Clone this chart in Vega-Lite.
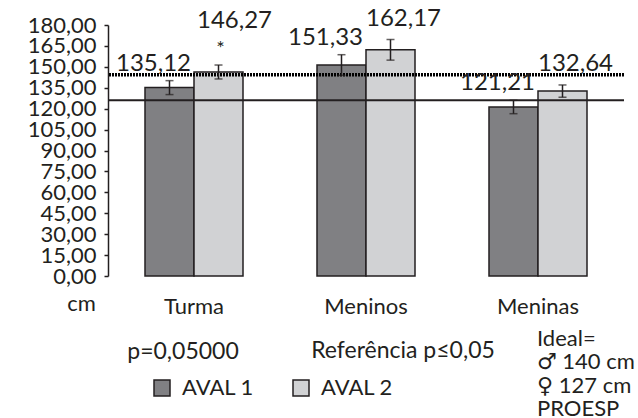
{
  "$schema": "https://vega.github.io/schema/vega-lite/v6.json",
  "width": 516,
  "height": 251,
  "autosize": "none",
  "padding": {"left": 108, "top": 25, "right": 14, "bottom": 142},
  "background": "white",
  "config": {
    "font": "Lato",
    "view": {"stroke": null},
    "text": {"font": "Lato", "fontSize": 24, "color": "#231f20"},
    "axis": {"labelFont": "Lato", "titleFont": "Lato", "labelColor": "#231f20", "titleColor": "#231f20", "grid": false},
    "axisY": {
      "labelExpr": "replace(format(datum.value, '.2f'), '.', ',')",
      "labelFontSize": 22, "labelPadding": 8, "labelOverlap": false, "labelBound": false,
      "domainColor": "#231f20", "domainWidth": 1.5, "tickColor": "#231f20", "tickWidth": 1.5, "tickSize": 4
    }
  },
  "datasets": {
    "bars": [
      {"grupo": "Turma", "aval": "AVAL 1", "valor": 135.12, "lo": 130.1, "hi": 140.1, "rotulo": "135,12", "sig": ""},
      {"grupo": "Turma", "aval": "AVAL 2", "valor": 146.27, "lo": 141.3, "hi": 151.3, "rotulo": "146,27", "sig": "*"},
      {"grupo": "Meninos", "aval": "AVAL 1", "valor": 151.33, "lo": 143.9, "hi": 158.7, "rotulo": "151,33", "sig": ""},
      {"grupo": "Meninos", "aval": "AVAL 2", "valor": 162.17, "lo": 154.8, "hi": 169.6, "rotulo": "162,17", "sig": ""},
      {"grupo": "Meninas", "aval": "AVAL 1", "valor": 121.21, "lo": 116.4, "hi": 126.0, "rotulo": "121,21", "sig": ""},
      {"grupo": "Meninas", "aval": "AVAL 2", "valor": 132.64, "lo": 128.2, "hi": 137.0, "rotulo": "132,64", "sig": ""}
    ],
    "refs": [
      {"ref": "dotted", "cm": 144.4},
      {"ref": "solid", "cm": 126.0}
    ],
    "notas": [
      {"grupo": "Turma", "nota": "p=0,05000"},
      {"grupo": "Meninos", "nota": "Referência p≤0,05"},
      {"grupo": "Meninas", "nota": "Ideal=\n♂ 140 cm\n♀ 127 cm\nPROESP"}
    ]
  },
  "layer": [
    {
      "data": {"name": "bars"},
      "mark": {"type": "bar", "stroke": "#231f20", "strokeWidth": 1.5},
      "encoding": {
        "x": {
          "field": "grupo", "type": "nominal", "sort": ["Turma", "Meninos", "Meninas"],
          "scale": {"paddingInner": 0, "paddingOuter": 0},
          "axis": {"title": null, "domain": false, "ticks": false, "tickSize": 0, "labelAngle": 0, "labelFontSize": 22, "labelPadding": 37, "labelBaseline": "alphabetic"}
        },
        "xOffset": {"field": "aval", "type": "nominal", "scale": {"paddingInner": 0, "paddingOuter": 0.755}},
        "y": {
          "field": "valor", "type": "quantitative",
          "scale": {"domain": [0, 180], "nice": false, "zero": true},
          "axis": {
            "values": [0, 15, 30, 45, 60, 75, 90, 105, 120, 135, 150, 165, 180],
            "title": "cm", "titleAngle": 0, "titleX": -27, "titleY": 285, "titleAlign": "center", "titleBaseline": "alphabetic",
            "titleFontWeight": "normal", "titleFontSize": 22
          }
        },
        "color": {
          "field": "aval", "type": "nominal",
          "scale": {"domain": ["AVAL 1", "AVAL 2"], "range": ["#808083", "#d1d2d4"]},
          "legend": {
            "title": null, "orient": "none", "legendX": 43, "legendY": 352, "direction": "horizontal",
            "symbolType": "square", "symbolSize": 256, "symbolStrokeColor": "#231f20", "symbolStrokeWidth": 1.5,
            "labelFont": "Lato", "labelFontSize": 22, "labelColor": "#231f20", "labelOffset": 9, "columnPadding": 36, "padding": 0
          }
        }
      }
    },
    {
      "data": {"name": "refs"},
      "transform": [{"filter": "datum.ref === 'dotted'"}],
      "mark": {"type": "rule", "color": "#000000", "strokeWidth": 3.5, "strokeDash": [2, 1]},
      "encoding": {"y": {"field": "cm", "type": "quantitative", "axis": {"values": [0, 15, 30, 45, 60, 75, 90, 105, 120, 135, 150, 165, 180]}}}
    },
    {
      "data": {"name": "refs"},
      "transform": [{"filter": "datum.ref === 'solid'"}],
      "mark": {"type": "rule", "color": "#231f20", "strokeWidth": 2},
      "encoding": {"y": {"field": "cm", "type": "quantitative", "axis": {"values": [0, 15, 30, 45, 60, 75, 90, 105, 120, 135, 150, 165, 180]}}}
    },
    {
      "data": {"name": "bars"},
      "mark": {"type": "rule", "color": "#231f20", "strokeWidth": 1.5},
      "encoding": {
        "x": {"field": "grupo", "type": "nominal", "sort": ["Turma", "Meninos", "Meninas"]},
        "xOffset": {"field": "aval", "type": "nominal"},
        "y": {"field": "lo", "type": "quantitative", "axis": {"values": [0, 15, 30, 45, 60, 75, 90, 105, 120, 135, 150, 165, 180]}},
        "y2": {"field": "hi"}
      }
    },
    {
      "data": {"name": "bars"},
      "mark": {"type": "tick", "color": "#231f20", "thickness": 1.5, "size": 8, "orient": "horizontal"},
      "encoding": {
        "x": {"field": "grupo", "type": "nominal", "sort": ["Turma", "Meninos", "Meninas"]},
        "xOffset": {"field": "aval", "type": "nominal"},
        "y": {"field": "lo", "type": "quantitative", "axis": {"values": [0, 15, 30, 45, 60, 75, 90, 105, 120, 135, 150, 165, 180]}}
      }
    },
    {
      "data": {"name": "bars"},
      "mark": {"type": "tick", "color": "#231f20", "thickness": 1.5, "size": 8, "orient": "horizontal"},
      "encoding": {
        "x": {"field": "grupo", "type": "nominal", "sort": ["Turma", "Meninos", "Meninas"]},
        "xOffset": {"field": "aval", "type": "nominal"},
        "y": {"field": "hi", "type": "quantitative", "axis": {"values": [0, 15, 30, 45, 60, 75, 90, 105, 120, 135, 150, 165, 180]}}
      }
    },
    {
      "data": {"name": "bars"},
      "transform": [{"filter": "datum.aval === 'AVAL 1'"}],
      "mark": {"type": "text", "baseline": "bottom", "align": "center", "dx": -16, "dy": -5},
      "encoding": {
        "x": {"field": "grupo", "type": "nominal", "sort": ["Turma", "Meninos", "Meninas"]},
        "xOffset": {"field": "aval", "type": "nominal"},
        "y": {"field": "hi", "type": "quantitative", "axis": {"values": [0, 15, 30, 45, 60, 75, 90, 105, 120, 135, 150, 165, 180]}},
        "text": {"field": "rotulo"}
      }
    },
    {
      "data": {"name": "bars"},
      "transform": [{"filter": "datum.aval === 'AVAL 2' && datum.sig === ''"}],
      "mark": {"type": "text", "baseline": "bottom", "align": "center", "dx": 13, "dy": -9},
      "encoding": {
        "x": {"field": "grupo", "type": "nominal", "sort": ["Turma", "Meninos", "Meninas"]},
        "xOffset": {"field": "aval", "type": "nominal"},
        "y": {"field": "hi", "type": "quantitative", "axis": {"values": [0, 15, 30, 45, 60, 75, 90, 105, 120, 135, 150, 165, 180]}},
        "text": {"field": "rotulo"}
      }
    },
    {
      "data": {"name": "bars"},
      "transform": [{"filter": "datum.sig === '*'"}],
      "mark": {"type": "text", "baseline": "bottom", "align": "center", "dx": 16, "dy": -32},
      "encoding": {
        "x": {"field": "grupo", "type": "nominal", "sort": ["Turma", "Meninos", "Meninas"]},
        "xOffset": {"field": "aval", "type": "nominal"},
        "y": {"field": "hi", "type": "quantitative", "axis": {"values": [0, 15, 30, 45, 60, 75, 90, 105, 120, 135, 150, 165, 180]}},
        "text": {"field": "rotulo"}
      }
    },
    {
      "data": {"name": "bars"},
      "transform": [{"filter": "datum.sig === '*'"}],
      "mark": {"type": "text", "baseline": "alphabetic", "align": "center", "dx": 2, "dy": -10, "fontSize": 20},
      "encoding": {
        "x": {"field": "grupo", "type": "nominal", "sort": ["Turma", "Meninos", "Meninas"]},
        "xOffset": {"field": "aval", "type": "nominal"},
        "y": {"field": "hi", "type": "quantitative", "axis": {"values": [0, 15, 30, 45, 60, 75, 90, 105, 120, 135, 150, 165, 180]}},
        "text": {"field": "sig"}
      }
    },
    {
      "data": {"name": "notas"},
      "transform": [{"filter": "datum.grupo === 'Turma'"}],
      "mark": {"type": "text", "align": "center", "baseline": "alphabetic", "dx": -11, "dy": 83, "fontSize": 23},
      "encoding": {
        "x": {"field": "grupo", "type": "nominal", "sort": ["Turma", "Meninos", "Meninas"]},
        "y": {"datum": 0, "type": "quantitative", "axis": {"values": [0, 15, 30, 45, 60, 75, 90, 105, 120, 135, 150, 165, 180]}},
        "text": {"field": "nota"}
      }
    },
    {
      "data": {"name": "notas"},
      "transform": [{"filter": "datum.grupo === 'Meninos'"}],
      "mark": {"type": "text", "align": "center", "baseline": "alphabetic", "dx": 37, "dy": 82, "fontSize": 23},
      "encoding": {
        "x": {"field": "grupo", "type": "nominal", "sort": ["Turma", "Meninos", "Meninas"]},
        "y": {"datum": 0, "type": "quantitative", "axis": {"values": [0, 15, 30, 45, 60, 75, 90, 105, 120, 135, 150, 165, 180]}},
        "text": {"field": "nota"}
      }
    },
    {
      "data": {"name": "notas"},
      "transform": [{"filter": "datum.grupo === 'Meninas'"}],
      "mark": {"type": "text", "align": "left", "baseline": "alphabetic", "dx": -1, "dy": 70, "fontSize": 22, "lineHeight": 23.3, "lineBreak": "\n", "font": "Lato, DejaVu Sans"},
      "encoding": {
        "x": {"field": "grupo", "type": "nominal", "sort": ["Turma", "Meninos", "Meninas"]},
        "y": {"datum": 0, "type": "quantitative", "axis": {"values": [0, 15, 30, 45, 60, 75, 90, 105, 120, 135, 150, 165, 180]}},
        "text": {"field": "nota"}
      }
    }
  ]
}
